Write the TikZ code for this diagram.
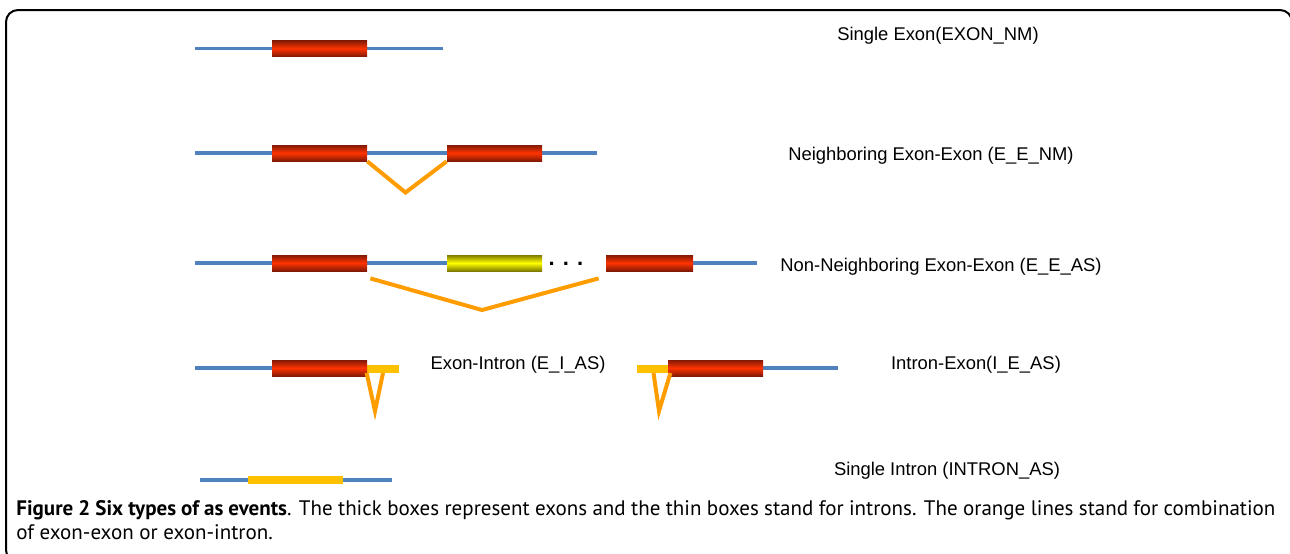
\documentclass[tikz,border=0pt]{standalone}
\usepackage{fontspec}
\setmainfont{Liberation Sans}
\newfontfamily\legfont{PT Sans}
\usepackage{xcolor}

\definecolor{azul}{HTML}{4F81BD}
\definecolor{vermelho}{HTML}{FF3300}
\definecolor{vermelhoesc}{HTML}{821A05}
\definecolor{amarelo}{HTML}{FFFF00}
\definecolor{amareloesc}{HTML}{7F7A00}
\definecolor{laranja}{HTML}{FF9C00}
\definecolor{intron}{HTML}{FFC000}

\begin{document}
\begin{tikzpicture}[x = 0.5pt, y = -0.5pt,
	fita/.style = {line width = 1.6pt, color = azul},
	exon/.style = {rectangle, inner sep = 0pt, minimum width = 47.5pt, minimum height = 8pt,
		top color = vermelhoesc, bottom color = vermelhoesc, middle color = vermelho},
	alt/.style = {exon, top color = amareloesc, bottom color = amareloesc, middle color = amarelo},
	barra/.style = {rectangle, inner sep = 0pt, minimum height = 4pt, fill = intron},
	juncao/.style = {line width = 2pt, color = laranja, line join = miter},
	rotulo/.style = {black, font = \fontsize{9.2}{11}\selectfont}]

	\useasboundingbox (0, 0) rectangle (1290, 553);
	\draw[line width = 1pt, rounded corners = 6pt] (6, 10) rectangle (1292, 562); % Moldura

	% Éxon simples
	\draw[fita] (195, 48.5) -- (443, 48.5);
	\node[exon] (e1) at (319.5, 48.5) {};
	\node[rotulo] (t1) at (938, 35.5) {Single Exon(EXON\_NM)};

	% Éxons vizinhos
	\draw[fita] (195, 153) -- (597, 153);
	\node[exon] (e2a) at (319.5, 153) {};
	\node[exon] (e2b) at (494.5, 153) {};
	\coordinate (v2) at (405.5, 192.5);
	\draw[juncao] (e2a.south east) -- (v2) -- (e2b.south west);
	\node[rotulo] (t2) at (931, 155.5) {Neighboring Exon-Exon (E\_E\_NM)};

	% Éxons não vizinhos
	\draw[fita] (195, 263) -- (447, 263);
	\draw[fita] (690, 263) -- (757, 263);
	\node[exon] (e3a) at (319.5, 263) {};
	\node[alt] (e3b) at (494.5, 263) {};
	\node[black, inner sep = 0pt] (pts) at (566, 264) {\fontsize{11}{11}\selectfont\textbf{. . .}};
	\node[exon, minimum width = 43.5pt] (e3c) at (649.5, 263) {};
	\coordinate (v3) at (482, 310);
	\draw[juncao] ([shift = {(3, 7)}]e3a.south east) -- (v3) -- ([shift = {(-7, 7)}]e3c.south west);
	\node[rotulo] (t3) at (941, 266.5) {Non-Neighboring Exon-Exon (E\_E\_AS)};

	% Éxon-íntron
	\draw[fita] (195, 368) -- (300, 368);
	\node[barra, minimum width = 16pt] (i4a) at (383, 368.5) {};
	\node[exon] (e4a) at (319.5, 368) {};
	\coordinate (v4a) at (375, 411);
	\draw[juncao] (i4a.south west) -- (v4a) -- (i4a.south);
	\node[rotulo] (t4a) at (518, 364.5) {Exon-Intron (E\_I\_AS)};

	% Íntron-éxon
	\draw[fita] (740, 368) -- (838, 368);
	\node[barra, minimum width = 16.5pt] (i4b) at (653.5, 368.5) {};
	\node[exon] (e4b) at (715.5, 368) {};
	\coordinate (v4b) at (659, 411);
	\draw[juncao] (i4b.south) -- (v4b) -- (i4b.south east);
	\node[rotulo] (t4b) at (976, 364.5) {Intron-Exon(I\_E\_AS)};

	% Íntron simples
	\draw[fita] (200, 480) -- (392, 480);
	\node[barra, minimum width = 47.5pt] (i5) at (295.5, 479.5) {};
	\node[rotulo] (t5) at (947, 470.5) {Single Intron (INTRON\_AS)};

	% Legenda
	\node[anchor = base west, inner sep = 0pt, text width = 629.5pt, align = justify] (leg) at (16, 515)
		{\legfont\fontsize{10.5}{14}\selectfont \textbf{Figure 2 Six types of as events}. The thick boxes represent exons and the thin boxes stand for introns. The orange lines stand for combination\linebreak of exon-exon or exon-intron.};

\end{tikzpicture}
\end{document}
